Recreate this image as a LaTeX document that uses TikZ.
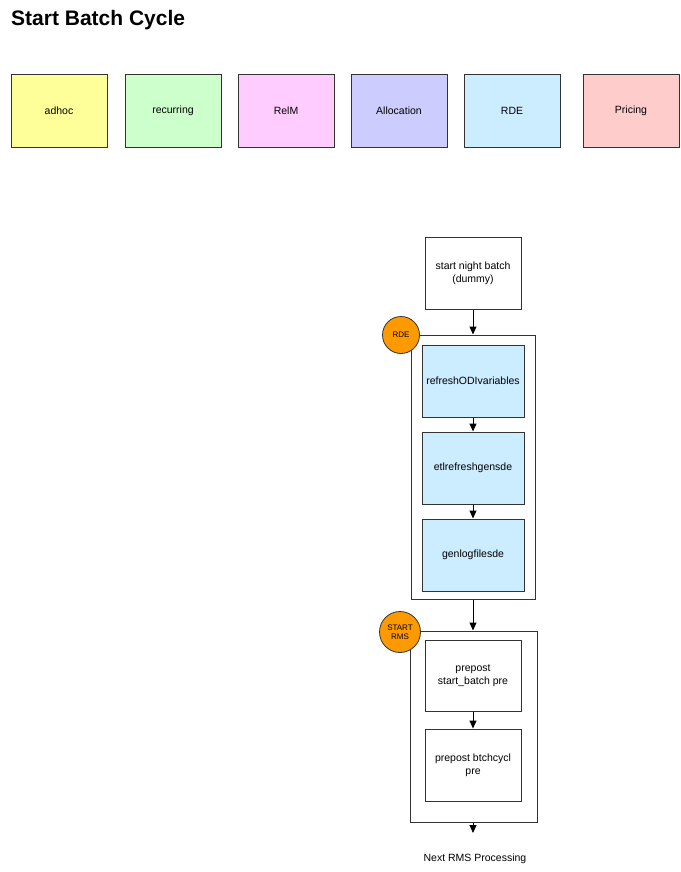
\documentclass[tikz,border=0pt]{standalone}
\usepackage{fontspec}
\setmainfont{Liberation Sans}
\usetikzlibrary{arrows.meta}
\definecolor{cyel}{HTML}{FFFF99}
\definecolor{cgrn}{HTML}{CCFFCC}
\definecolor{cpnk}{HTML}{FFCCFF}
\definecolor{clav}{HTML}{CCCCFF}
\definecolor{cblu}{HTML}{CCECFF}
\definecolor{cred}{HTML}{FFCCCC}
\definecolor{corg}{HTML}{FF9900}
\definecolor{cline}{HTML}{333333}
\tikzset{
  legend/.style={draw=cline, line width=1pt, minimum width=96pt, minimum height=73pt, inner sep=0pt, font=\fontsize{10.5}{12.5}\selectfont},
  jobbox/.style={draw=cline, line width=1pt, fill=white, minimum width=96pt, minimum height=72pt, inner sep=0pt, align=center, font=\fontsize{10.5}{13}\selectfont},
  rdebox/.style={jobbox, fill=cblu, minimum width=102pt},
  groupbox/.style={draw=cline, line width=1pt, inner sep=0pt},
  tag/.style={circle, draw=cline, line width=0.8pt, fill=corg, minimum size=37pt, inner sep=0pt, align=center, font=\fontsize{8}{9}\selectfont},
  flow/.style={draw=black, line width=1pt, -{Triangle[width=7pt,length=8pt]}}
}
\begin{document}
\begin{tikzpicture}[x=1pt,y=-1pt]
\useasboundingbox (0,0) rectangle (680,872);
\node[anchor=base west, font=\fontsize{21}{25}\selectfont\bfseries, inner sep=0pt] (title) at (11,26) {Start Batch Cycle};
% legend
\node[legend, fill=cyel] (adhoc) at (59,111) {adhoc};
\node[legend, fill=cgrn] (recurring) at (173,111) {recurring};
\node[legend, fill=cpnk] (relm) at (286,111) {RelM};
\node[legend, fill=clav] (alloc) at (399,111) {Allocation};
\node[legend, fill=cblu] (rde) at (512,111) {RDE};
\node[legend, fill=cred] (pricing) at (631,111) {Pricing};
% flow
\node[jobbox] (start) at (473,273) {start night batch\\(dummy)};
\node[groupbox, minimum width=124pt, minimum height=264pt] (g1) at (473,467) {};
\node[rdebox] (refresh) at (473,381) {refreshODIvariables};
\node[rdebox] (etl) at (473,468) {etlrefreshgensde};
\node[rdebox] (genlog) at (473,555) {genlogfilesde};
\node[groupbox, minimum width=127pt, minimum height=191pt] (g2) at (473.5,726.5) {};
\node[jobbox, minimum height=71pt] (pp1) at (473,675.5) {prepost\\start\_batch pre};
\node[jobbox] (pp2) at (473,765) {prepost btchcycl\\pre};
\coordinate (end) at (473,833);
\node[font=\fontsize{10.5}{12.5}\selectfont] (next) at (475,859) {Next RMS Processing};
\node[tag] (trde) at (401,335) {RDE};
\node[tag, minimum size=41pt] (trms) at (400,632) {START\\RMS};
\draw[flow] (start) -- (g1.north);
\draw[flow] (refresh) -- (etl);
\draw[flow] (etl) -- (genlog);
\draw[flow] (g1.south) -- (g2.north -| g1.south);
\draw[flow] (pp1) -- (pp2);
\draw[flow] (g2.south -| pp2.south) -- (end);
\end{tikzpicture}
\end{document}
